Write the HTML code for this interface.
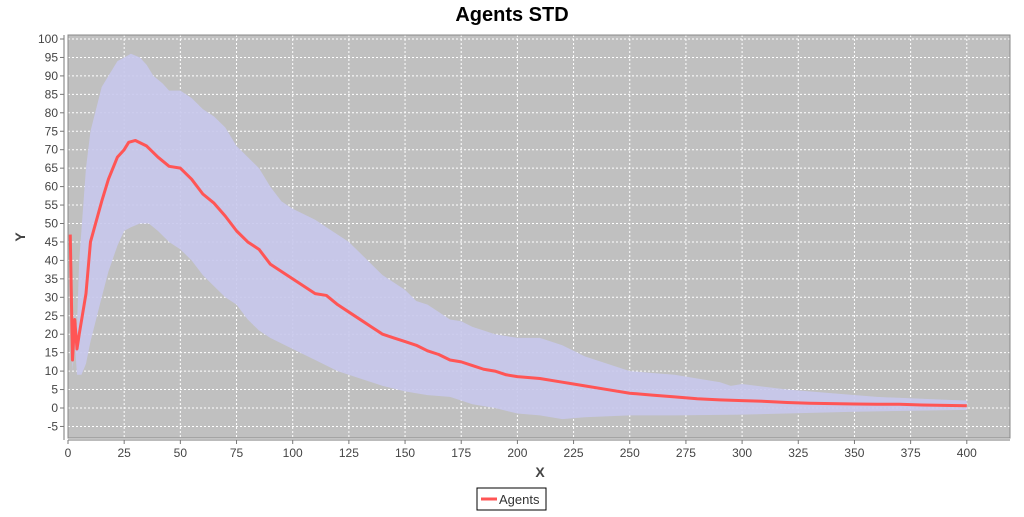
<!DOCTYPE html>
<html><head><meta charset="utf-8"><style>
body{margin:0;background:#fff;width:1024px;height:512px;overflow:hidden;font-family:"Liberation Sans",sans-serif}
</style></head><body>
<svg id="chart" width="1024" height="512" xmlns="http://www.w3.org/2000/svg" font-family="Liberation Sans, sans-serif">
<text x="512" y="21" text-anchor="middle" font-size="20" font-weight="bold">Agents STD</text>
<rect x="68" y="35" width="942" height="403" fill="#c0c0c0"/>
<g id="grid"></g><g id="band"></g><g id="line"></g><g id="axes"></g>
<text x="540" y="477" text-anchor="middle" font-size="14" font-weight="bold" fill="#444">X</text>
<text x="25" y="237" text-anchor="middle" font-size="14" font-weight="bold" fill="#444" transform="rotate(-90 25 237)">Y</text>
<g>
<rect x="477" y="488" width="69" height="22" fill="#fff" stroke="#000" stroke-width="1"/>
<line x1="481" y1="499" x2="497" y2="499" stroke="#ff5555" stroke-width="3"/>
<text x="499" y="504" font-size="13" fill="#333">Agents</text>
</g>
</svg>
<script>
const meanX=[1,2,3,4,5,8,10,15,18,22,25,27,30,35,40,45,50,55,60,65,70,75,80,85,90,95,100,105,110,115,120,125,130,135,140,145,150,155,160,165,170,175,180,185,190,195,200,210,220,230,240,250,260,270,280,290,300,310,320,330,340,350,360,370,380,390,400];
const meanY=[47,13,24,16,20,31,45,56,62,68,70,72,72.5,71,68,65.5,65,62,58,55.5,52,48,45,43,39,37,35,33,31,30.5,28,26,24,22,20,19,18,17,15.5,14.5,13,12.5,11.5,10.5,10,9,8.5,8,7,6,5,4,3.5,3,2.5,2.2,2,1.8,1.5,1.3,1.2,1.1,1,1,0.8,0.7,0.6];
const upX=[1,2,3,4,5,8,10,15,18,22,25,28,32,35,38,42,45,50,55,60,65,70,75,80,85,90,95,100,110,115,120,125,130,135,140,145,150,155,160,165,170,175,180,185,190,200,210,220,230,240,250,260,270,280,290,295,300,320,340,360,380,400];
const upY=[47,14,26,22,40,65,75,87,90,94,95,96,95,93,90,88,86,86,84,81,79,76,71,68,65,60,56,54,51,49,47,45,42,39,36,34,32,29,28,26,24,23.5,22,21,20,19,19,17,14,12,10,9.5,9,8,7,6,6.5,5,4,3,2.5,2];
const loX=[1,2,3,4,6,8,10,15,18,22,25,28,32,36,40,45,50,55,60,65,70,75,80,85,90,100,110,120,130,140,150,160,170,180,190,200,210,220,230,250,270,300,350,400];
const loY=[46,10,18,9,9,12,18,30,37,44,48,49,50,50,48,45,43,40,36,33,30,28,24,21,19,16,13,10,8,6,4.5,3.5,3,1,0,-1.5,-2,-3,-2.5,-2,-2,-1.8,-1,-0.5];
const xTicks=[0,25,50,75,100,125,150,175,200,225,250,275,300,325,350,375,400];
const yTicks=[-5,0,5,10,15,20,25,30,35,40,45,50,55,60,65,70,75,80,85,90,95,100];
const X0=68,XS=2.247,Y0=408,YS=3.69;
const sx=v=>X0+v*XS, sy=v=>Y0-v*YS;
const NS="http://www.w3.org/2000/svg";
function mk(t,a,p){const e=document.createElementNS(NS,t);for(const k in a)e.setAttribute(k,a[k]);p.appendChild(e);return e;}
const grid=document.getElementById('grid'),axes=document.getElementById('axes');
xTicks.forEach(v=>{
 const l=mk('line',{x1:sx(v),x2:sx(v),y1:35,y2:438,stroke:'#fff','stroke-dasharray':'2,2','stroke-width':1},grid);
 
 
 mk('line',{x1:sx(v),x2:sx(v),y1:440,y2:444,stroke:'#777'},axes);
 const t=mk('text',{x:sx(v),y:457,'text-anchor':'middle','font-size':12,fill:'#444'},axes);
 t.textContent=v;
 
 
});
yTicks.forEach(v=>{
 const l=mk('line',{x1:68,x2:1010,y1:sy(v),y2:sy(v),stroke:'#fff','stroke-dasharray':'2,2','stroke-width':1},grid);
 
 
 mk('line',{x1:60,x2:64,y1:sy(v),y2:sy(v),stroke:'#777'},axes);
 const t=mk('text',{x:58,y:sy(v)+4,'text-anchor':'end','font-size':12,fill:'#444'},axes);
 t.textContent=v;
 
 
});
mk('line',{x1:64,x2:64,y1:35,y2:440,stroke:'#777'},axes);
mk('line',{x1:68,x2:1010,y1:440,y2:440,stroke:'#777'},axes);
mk('rect',{x:68,y:35,width:942,height:403,fill:'none',stroke:'#888','stroke-width':1},axes);
let d='M'+upX.map((x,i)=>sx(x)+','+sy(upY[i])).join(' L');
for(let i=loX.length-1;i>=0;i--)d+=' L'+sx(loX[i])+','+sy(loY[i]);
const b=mk('path',{d:d+'Z',fill:'#c8c8ec','fill-opacity':0.9},document.getElementById('band'));


const ln=mk('polyline',{points:meanX.map((x,i)=>sx(x)+','+sy(meanY[i])).join(' '),fill:'none',stroke:'#ff5555','stroke-width':3,'stroke-linejoin':'round'},document.getElementById('line'));


</script>
</body></html>
